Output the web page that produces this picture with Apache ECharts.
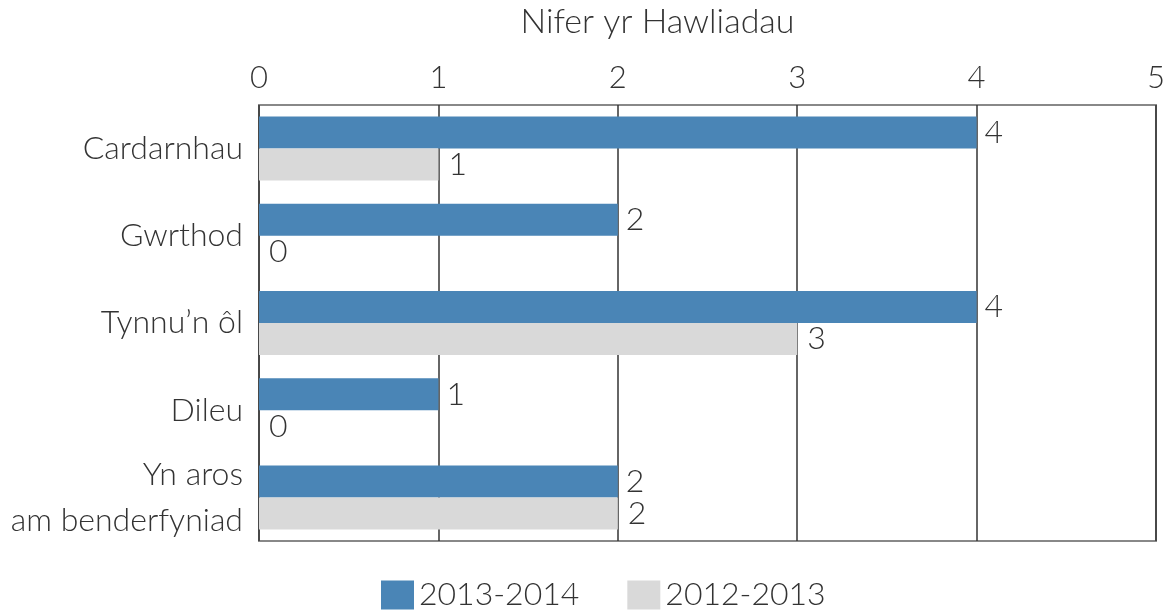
<!DOCTYPE html>
<html>
<head>
<meta charset="utf-8">
<script src="https://cdn.jsdelivr.net/npm/echarts@6/dist/echarts.min.js"></script>
<style>
  html, body { margin: 0; padding: 0; background: #fff; }
  #chart { width: 1171px; height: 611px; }
</style>
</head>
<body>
<div id="chart"></div>
<script>
var categories = ['Cardarnhau', 'Gwrthod', 'Tynnu\u2019n ôl', 'Dileu', 'Yn aros\nam benderfyniad']
var values2014 = [4, 2, 4, 1, 2]
var values2013 = [1, 0, 3, 0, 2]
var xTicks = [0, 1, 2, 3, 4, 5]

var font = 'Lato, "Open Sans", sans-serif'
var chart = echarts.init(document.getElementById('chart'))

chart.setOption({
  backgroundColor: '#fff',
  textStyle: { fontFamily: font, color: '#333' },
  grid: { left: 259, right: 15, top: 102, bottom: 70, show: true, borderColor: '#888', borderWidth: 2 },
  legend: {
    bottom: -5,
    left: 376,
    icon: 'rect',
    itemWidth: 33,
    itemHeight: 29,
    itemGap: 48,
    textStyle: { fontSize: 32, color: '#333', fontFamily: font, fontWeight: 300 },
    data: ['2013-2014', '2012-2013']
  },
  xAxis: {
    type: 'value',
    position: 'top',
    min: 0,
    max: 5,
    interval: 1,
    name: 'Nifer yr Hawliadau',
    nameLocation: 'middle',
    nameGap: 66,
    nameTextStyle: { fontSize: 34, color: '#333', fontFamily: font, fontWeight: 300, padding: [0, 100, 0, 0] },
    axisLine: { show: false },
    axisTick: { show: false },
    axisLabel: {
      fontSize: 31, color: '#333', fontFamily: font, fontWeight: 300, margin: 12,
      formatter: function (v) { return xTicks.indexOf(v) >= 0 ? String(v) : '' }
    },
    splitLine: { show: true, lineStyle: { color: '#333', width: 1.5 } }
  },
  yAxis: {
    type: 'category',
    inverse: true,
    data: categories,
    axisLine: { show: false },
    axisTick: { show: false },
    axisLabel: {
      fontSize: 32, color: '#333', fontFamily: font, fontWeight: 300, margin: 16,
      lineHeight: 46, align: 'right'
    }
  },
  series: [
    {
      name: '2013-2014',
      type: 'bar',
      data: values2014,
      barWidth: 32,
      barGap: '0%',
      itemStyle: { color: '#4a85b6' },
      label: { show: true, position: 'right', distance: 8, fontSize: 32, color: '#333', fontFamily: font, fontWeight: 300 }
    },
    {
      name: '2012-2013',
      type: 'bar',
      data: values2013,
      barWidth: 32,
      barGap: '0%',
      itemStyle: { color: '#d9d9d9' },
      label: { show: true, position: 'right', distance: 10, fontSize: 32, color: '#333', fontFamily: font, fontWeight: 300 }
    }
  ]
})
</script>
</body>
</html>
